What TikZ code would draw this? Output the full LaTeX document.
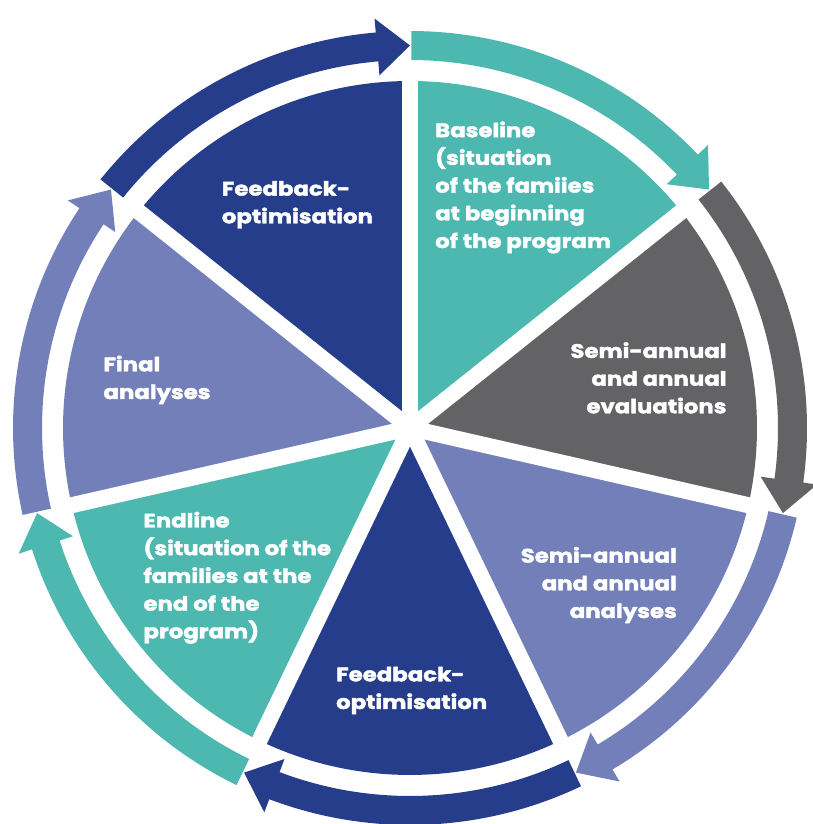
\documentclass[tikz,border=0pt]{standalone}
\usepackage{fontspec}
\newfontfamily\lblfont{Poppins}[FakeStretch=1.17, BoldFeatures={FakeBold=2}]
\definecolor{cBlue}{HTML}{253D8B}
\definecolor{cTeal}{HTML}{4CB8B0}
\definecolor{cGray}{HTML}{636365}
\definecolor{cLav}{HTML}{727FB9}
\begin{document}
\begin{tikzpicture}[x=1pt,y=1pt,
  lbl/.style={font=\lblfont\bfseries\fontsize{19.5}{27.7}\selectfont, text=white, inner sep=0pt},
  gapline/.style={white, line width=16pt}]
\useasboundingbox (0,0) rectangle (812,824);
\coordinate (C) at (410,396);
% slices
\foreach \i/\col in {0/cTeal,1/cGray,2/cLav,3/cBlue,4/cTeal,5/cLav,6/cBlue} {
  \pgfmathsetmacro\aa{90-51.428571*\i}
  \pgfmathsetmacro\ab{90-51.428571*(\i+1)}
  \fill[\col, shift={(C)}] (0,0) -- (\aa:347pt) arc[start angle=\aa, end angle=\ab, radius=347pt] -- cycle;
}
% white gaps
\foreach \i in {0,...,6} {
  \draw[gapline, shift={(C)}] (0,0) -- (90-51.428571*\i:362pt);
}
% arrows
\foreach \s/\col in {141.428571/cBlue, 90/cTeal, 38.571429/cGray, -12.857143/cLav, -64.285714/cBlue, -115.714286/cTeal, -167.142857/cLav} {
  \pgfmathsetmacro\e{\s-51.428571}
  \pgfmathsetmacro\b{\e+4.95}
  \pgfmathsetmacro\st{\s-0.2}
  \fill[\col, shift={(C)}] (\st:368pt) arc[start angle=\st, end angle=\b, radius=368pt]
     -- (\b:354pt) -- (\e:382.5pt) -- (\b:411pt) -- (\b:397pt)
     arc[start angle=\b, end angle=\st, radius=397pt] -- cycle;
}
% labels (anchor base = baseline of the last line)
\node[lbl, align=left, anchor=base west] (t1) at (221.7,600.7) {Feedback-\\optimisation};
\node[lbl, align=left, anchor=base west] (t2) at (435,576) {Baseline\\(situation\\of the famiies\\at beginning\\of the program};
\node[lbl, align=right, anchor=base east] (t3) at (726.7,410.7) {Semi-annual\\and annual\\evaluations};
\node[lbl, align=right, anchor=base east] (t4) at (677,206) {Semi-annual\\and annual\\analyses};
\node[lbl, align=left, anchor=base west] (t5) at (336,115) {Feedback-\\optimisation};
\node[lbl, align=left, anchor=base west] (t6) at (143.3,185.7) {Endline\\(situation of the\\families at the\\end of the\\program)};
\node[lbl, align=left, anchor=base west] (t7) at (103.3,425) {Final\\analyses};
\end{tikzpicture}
\end{document}
